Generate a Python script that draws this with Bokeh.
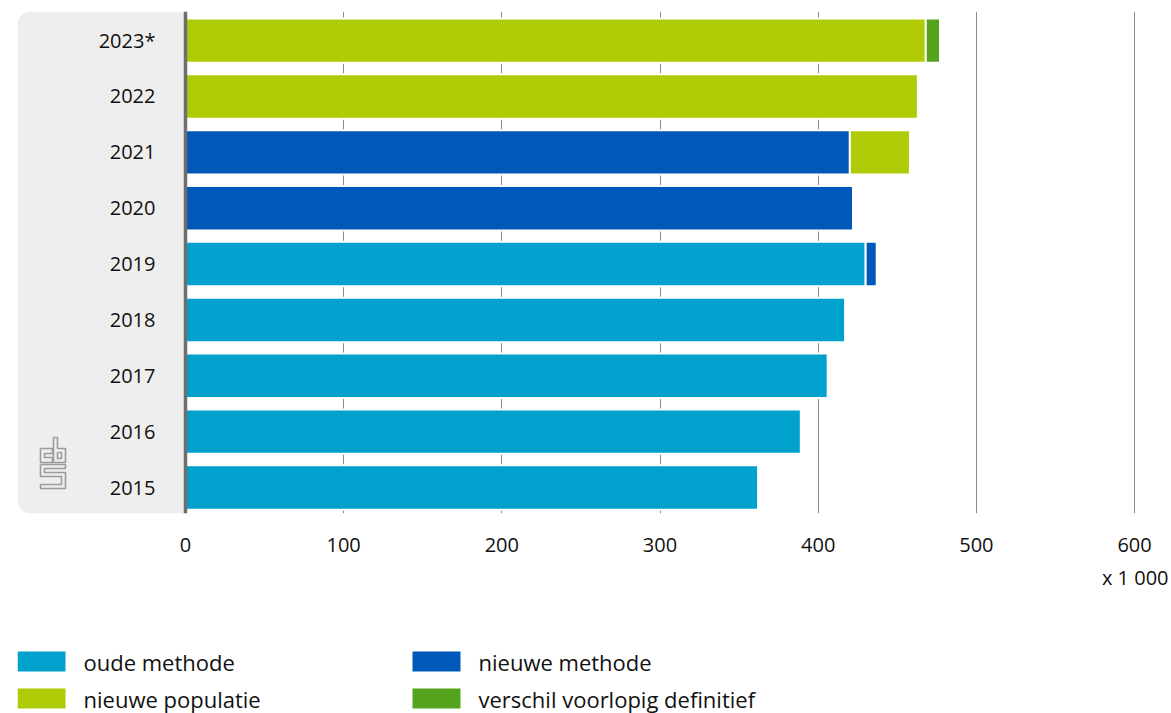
import numpy as np
from bokeh.plotting import figure
from bokeh.layouts import column
from bokeh.models import Range1d, FixedTicker, Title, BoxAnnotation, Span
from bokeh.core.properties import value
from bokeh.embed import file_html
from bokeh.resources import INLINE

# ---- data ----
years = ["2015", "2016", "2017", "2018", "2019", "2020", "2021", "2022", "2023*"]
oude_methode = [362, 389, 406, 417, 430, 0, 0, 0, 0]
nieuwe_methode = [0, 0, 0, 0, 7, 422, 420, 0, 0]
nieuwe_populatie = [0, 0, 0, 0, 0, 0, 38, 463, 468]
verschil = [0, 0, 0, 0, 0, 0, 0, 0, 9]
series_names = ["oude methode", "nieuwe methode", "nieuwe populatie",
                "verschil voorlopig definitief"]
colors = ["#00a1cd", "#0058b8", "#afcb05", "#53a31d"]
x_ticks = [0, 100, 200, 300, 400, 500, 600]
unit_label = "x 1 000"

FONT = "Open Sans"
TXT = "#111111"
W = 1171
LEFT, RIGHT = 17, 11

p = figure(width=W, height=608,
           x_range=Range1d(-106.2, 616.4), y_range=Range1d(-0.465, 8.521),
           output_backend="svg", toolbar_location=None, y_axis_location=None,
           min_border_left=LEFT, min_border_right=RIGHT, min_border_top=11,
           min_border_bottom=95)
p.outline_line_color = None
p.ygrid.visible = False
p.xgrid.ticker = FixedTicker(ticks=x_ticks)
p.xgrid.grid_line_color = "#8c8c8c"
p.xgrid.grid_line_width = 1

ax = p.xaxis[0]
ax.ticker = FixedTicker(ticks=x_ticks)
ax.axis_line_color = None
ax.major_tick_line_color = None
ax.minor_tick_line_color = None
ax.major_tick_out = 0
ax.major_tick_in = 0
ax.major_label_standoff = 24
ax.major_label_text_font = FONT
ax.major_label_text_font_size = "20px"
ax.major_label_text_color = TXT

# grey label panel
panel = BoxAnnotation(left=-106.2, right=0, fill_color="#eeeeee", fill_alpha=1,
                      line_color=None, level="underlay",
                      border_radius=(13, 0, 0, 13))
p.add_layout(panel)

# small decorative logo outline in the grey panel (pixel offsets -> data)
PX_PER_X = 1.5817
PX_PER_Y = 55.86
def to_data(pts, ox=-145, oy=50):
    xs = [(ox + a) / PX_PER_X for a, b in pts]
    ys_ = [-(oy - 487 + 487) / PX_PER_Y * 0 + (487 - (437 + b)) / PX_PER_Y for a, b in pts]
    xs = [(40 + a - 185) / PX_PER_X for a, b in pts]
    return xs, ys_
logo_shapes = [
    [(0, 11), (12, 11), (12, 16), (4, 16), (4, 20), (12, 20), (12, 25), (0, 25), (0, 11)],
    [(13, 0), (17, 0), (17, 11), (25, 11), (25, 25), (13, 25), (13, 0)],
    [(17, 15), (21, 15), (21, 21), (17, 21), (17, 15)],
    [(0, 27), (25, 27), (25, 31), (4, 31), (4, 35), (25, 35), (25, 51), (0, 51),
     (0, 47), (21, 47), (21, 39), (0, 39), (0, 27)],
]
lx, ly = zip(*[to_data(s) for s in logo_shapes])
p.multi_line(xs=list(lx), ys=list(ly), line_color="#9c9c9c", line_width=1.6)

ys = np.arange(len(years))
all_series = [oude_methode, nieuwe_methode, nieuwe_populatie, verschil]
base = np.zeros(len(years))
for vals, col in zip(all_series, colors):
    v = np.array(vals, dtype=float)
    mask = v > 0
    p.hbar(y=ys[mask], left=base[mask], right=(base + v)[mask], height=0.795,
           fill_color=col, line_color="white", line_width=2)
    base = base + v

p.text(x=[-19] * len(years), y=ys, text=years, text_align="right",
       text_baseline="middle", text_font=value(FONT), text_font_size="20px",
       text_color=TXT)

p.add_layout(Span(location=0, dimension="height", line_color="#6e6e6e",
                  line_width=3.5))

t = Title(text=unit_label, align="right", text_font=FONT, text_font_size="20px",
          text_font_style="normal", text_color=TXT, standoff=15, offset=-8)
p.add_layout(t, "below")

# ---- legend figure (page-pixel coordinates, y downwards) ----
H2 = 105
p2 = figure(width=W, height=H2, x_range=Range1d(LEFT, W - RIGHT),
            y_range=Range1d(H2, 0),
            output_backend="svg", toolbar_location=None,
            x_axis_location=None, y_axis_location=None,
            min_border=0, min_border_left=LEFT, min_border_right=RIGHT,
            min_border_top=0, min_border_bottom=0)
p2.outline_line_color = None
p2.grid.visible = False

idx = np.arange(len(series_names))
col_i = idx % 2
row_i = idx // 2
sw_x = 41 + 395 * col_i
sw_y = 53 + 37 * row_i
p2.rect(x=sw_x, y=sw_y, width=48, height=20, fill_color=colors,
        line_color=None)
p2.text(x=sw_x + 42, y=sw_y, text=series_names, text_align="left",
        text_baseline="middle", text_font=value(FONT), text_font_size="22px",
        text_color=TXT)

layout = column(p, p2, spacing=0)
open("out.html", "w").write(file_html(layout, INLINE))
